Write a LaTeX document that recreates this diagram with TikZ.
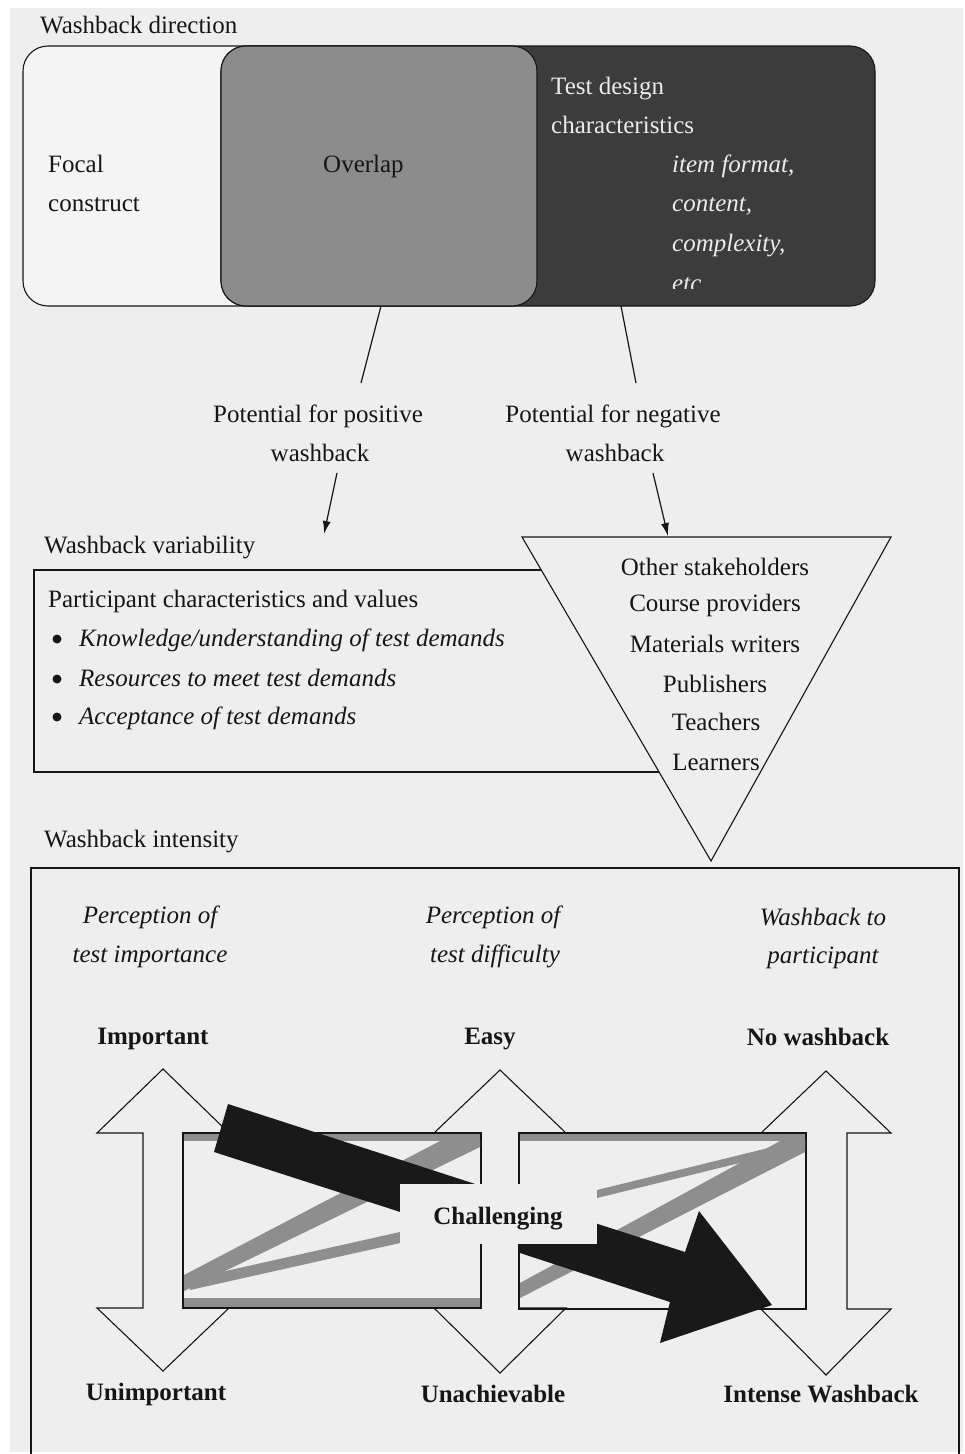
\documentclass[tikz,border=0pt]{standalone}
\usepackage{fontspec}
\setmainfont{Liberation Serif}
\usetikzlibrary{arrows.meta}
\definecolor{page}{HTML}{EEEEEE}
\definecolor{ink}{HTML}{161616}
\definecolor{darkbox}{HTML}{3C3C3C}
\definecolor{midbox}{HTML}{8C8C8C}
\definecolor{band}{HTML}{8E8E8E}
\definecolor{lite}{HTML}{F4F4F4}
\definecolor{wtext}{HTML}{EBEBEB}
\begin{document}
\begin{tikzpicture}[x=1pt,y=-1pt,
  txt/.style={font=\fontsize{25}{30}\selectfont, text=ink, inner sep=0pt},
  itxt/.style={txt, font=\fontsize{25}{30}\selectfont\itshape},
  btxt/.style={txt, font=\fontsize{25}{30}\selectfont\bfseries},
  bulletdot/.style={circle, fill=ink, inner sep=0pt, minimum size=9pt},
  thinline/.style={draw=ink, line width=1.1pt},
  dblarrow/.style={draw=ink, line width=1.1pt, fill=page, line join=miter},
  grayband/.style={fill=band, draw=none},
  blackarrow/.style={fill=black!90, draw=none},
  conn/.style={draw=ink, line width=1.2pt},
  pointer/.style={conn, -{Latex[length=13pt,width=8pt]}},
]
% page
\useasboundingbox (0,0) rectangle (964,1454);
\fill[white] (0,0) rectangle (964,1454);
\fill[page] (10,8) rectangle (963,1452);

% ---------- Washback direction ----------
\node[txt, anchor=base west] (dirlabel) at (40,33) {Washback direction};
\draw[thinline, fill=lite, rounded corners=25pt] (23,46) rectangle (537,306);
\draw[thinline, fill=darkbox, rounded corners=25pt] (221,46) rectangle (875,306);
\draw[thinline, fill=midbox, rounded corners=25pt] (221,46) rectangle (537,306);

\node[txt, anchor=base west] (focal) at (48,172) {Focal};
\node[txt, anchor=base west] (construct) at (48,211) {construct};
\node[txt, anchor=base west] (overlap) at (323,172) {Overlap};
\node[txt, text=wtext, anchor=base west] (tdc1) at (551,94) {Test design};
\node[txt, text=wtext, anchor=base west] (tdc2) at (551,133) {characteristics};
\node[itxt, text=wtext, anchor=base west] (it1) at (672,172) {item format,};
\node[itxt, text=wtext, anchor=base west] (it2) at (672,211) {content,};
\node[itxt, text=wtext, anchor=base west] (it3) at (672,251) {complexity,};
\begin{scope}
  \clip (660,268) rectangle (720,288);
  \node[itxt, text=wtext, anchor=base west] (it4) at (672,291) {etc};
\end{scope}

\coordinate (ovB) at (381,306);
\coordinate (tdB) at (621,306);
\coordinate (posT) at (361,383);
\coordinate (negT) at (636,383);
\draw[conn] (ovB) -- (posT);
\draw[conn] (tdB) -- (negT);

\node[txt, anchor=base] (pos1) at (318,422) {Potential for positive};
\node[txt, anchor=base] (pos2) at (320,461) {washback};
\node[txt, anchor=base] (neg1) at (613,422) {Potential for negative};
\node[txt, anchor=base] (neg2) at (615,461) {washback};

\coordinate (posA) at (337,473);
\coordinate (posZ) at (324,534);
\coordinate (negA) at (653,473);
\coordinate (negZ) at (668,536);
\draw[pointer] (posA) -- (posZ);
\draw[pointer] (negA) -- (negZ);

% ---------- Washback variability ----------
\node[txt, anchor=base west] (varlabel) at (44,553) {Washback variability};
\draw[thinline] (34,570) rectangle (700,772);
\node[txt, anchor=base west] (pcv) at (48,607) {Participant characteristics and values};
\node[bulletdot] (bul1) at (57,639) {};
\node[bulletdot] (bul2) at (57,679) {};
\node[bulletdot] (bul3) at (57,717) {};
\node[itxt, anchor=base west] (kn) at (79,646) {Knowledge/understanding of test demands};
\node[itxt, anchor=base west] (rs) at (79,686) {Resources to meet test demands};
\node[itxt, anchor=base west] (ac) at (79,724) {Acceptance of test demands};

\draw[thinline, fill=page, line join=miter] (522,537) -- (891,537) -- (711,861) -- cycle;
\node[txt, anchor=base] (st1) at (715,575) {Other stakeholders};
\node[txt, anchor=base] (st2) at (715,611) {Course providers};
\node[txt, anchor=base] (st3) at (715,652) {Materials writers};
\node[txt, anchor=base] (st4) at (715,692) {Publishers};
\node[txt, anchor=base] (st5) at (716,730) {Teachers};
\node[txt, anchor=base] (st6) at (716,770) {Learners};

% ---------- Washback intensity ----------
\node[txt, anchor=base west] (intlabel) at (44,847) {Washback intensity};
\draw[thinline] (31,1454) -- (31,868) -- (959,868) -- (959,1454);

\node[itxt, anchor=base] (pi1) at (150,923) {Perception of};
\node[itxt, anchor=base] (pi2) at (150,962) {test importance};
\node[itxt, anchor=base] (pd1) at (493,923) {Perception of};
\node[itxt, anchor=base] (pd2) at (495,962) {test difficulty};
\node[itxt, anchor=base] (wp1) at (823,925) {Washback to};
\node[itxt, anchor=base] (wp2) at (823,963) {participant};

\node[btxt, anchor=base] (imp) at (153,1044) {Important};
\node[btxt, anchor=base] (easy) at (490,1044) {Easy};
\node[btxt, anchor=base] (nowb) at (818,1045) {No washback};
\node[btxt, anchor=base] (unimp) at (156,1400) {Unimportant};
\node[btxt, anchor=base] (unach) at (493,1402) {Unachievable};
\node[btxt, anchor=base] (intense) at (821,1402) {Intense Washback};

% double-headed vertical arrows
\draw[dblarrow] (163,1069) -- (229,1133) -- (183,1133) -- (183,1308) -- (229,1308) -- (163,1371)
  -- (97,1308) -- (143,1308) -- (143,1133) -- (97,1133) -- cycle;
\draw[dblarrow] (500,1070) -- (566,1133) -- (519,1133) -- (519,1308) -- (566,1308) -- (500,1373)
  -- (434,1308) -- (481,1308) -- (481,1133) -- (434,1133) -- cycle;
\draw[dblarrow] (826,1071) -- (891,1133) -- (847,1133) -- (847,1309) -- (891,1309) -- (826,1375)
  -- (761,1309) -- (806,1309) -- (806,1133) -- (761,1133) -- cycle;

% panels
\draw[thinline] (183,1133) rectangle (481,1308);
\draw[thinline] (519,1133) rectangle (806,1309);

% grey bands, left panel
\fill[grayband] (184,1134) rectangle (480,1141);
\fill[grayband] (440,1141) -- (480,1141) -- (480,1147) -- (184,1291) -- (184,1275) -- cycle;
\fill[grayband] (190,1279) -- (400,1232) -- (400,1243) -- (190,1290) -- cycle;
\fill[grayband] (184,1298) rectangle (480,1307);
% grey bands, right panel
\fill[grayband] (520,1134) rectangle (805,1141);
\fill[grayband] (780,1141) -- (805,1141) -- (805,1152) -- (520,1298) -- (520,1283) -- cycle;
\fill[grayband] (597,1190) -- (805,1139) -- (805,1147) -- (597,1198) -- cycle;

% black arrows
\fill[blackarrow] (228,1104) -- (500,1192) -- (450,1228) -- (214,1152) -- cycle;
\fill[blackarrow] (520,1199) -- (685,1252) -- (699,1211) -- (772,1305) -- (660,1343)
  -- (670,1302) -- (520,1253) -- cycle;

% label
\node[fill=page, minimum width=197pt, minimum height=60pt, inner sep=0pt] (chalbox) at (498.5,1214) {};
\node[btxt, anchor=base] (chal) at (498,1224) {Challenging};
\end{tikzpicture}
\end{document}
